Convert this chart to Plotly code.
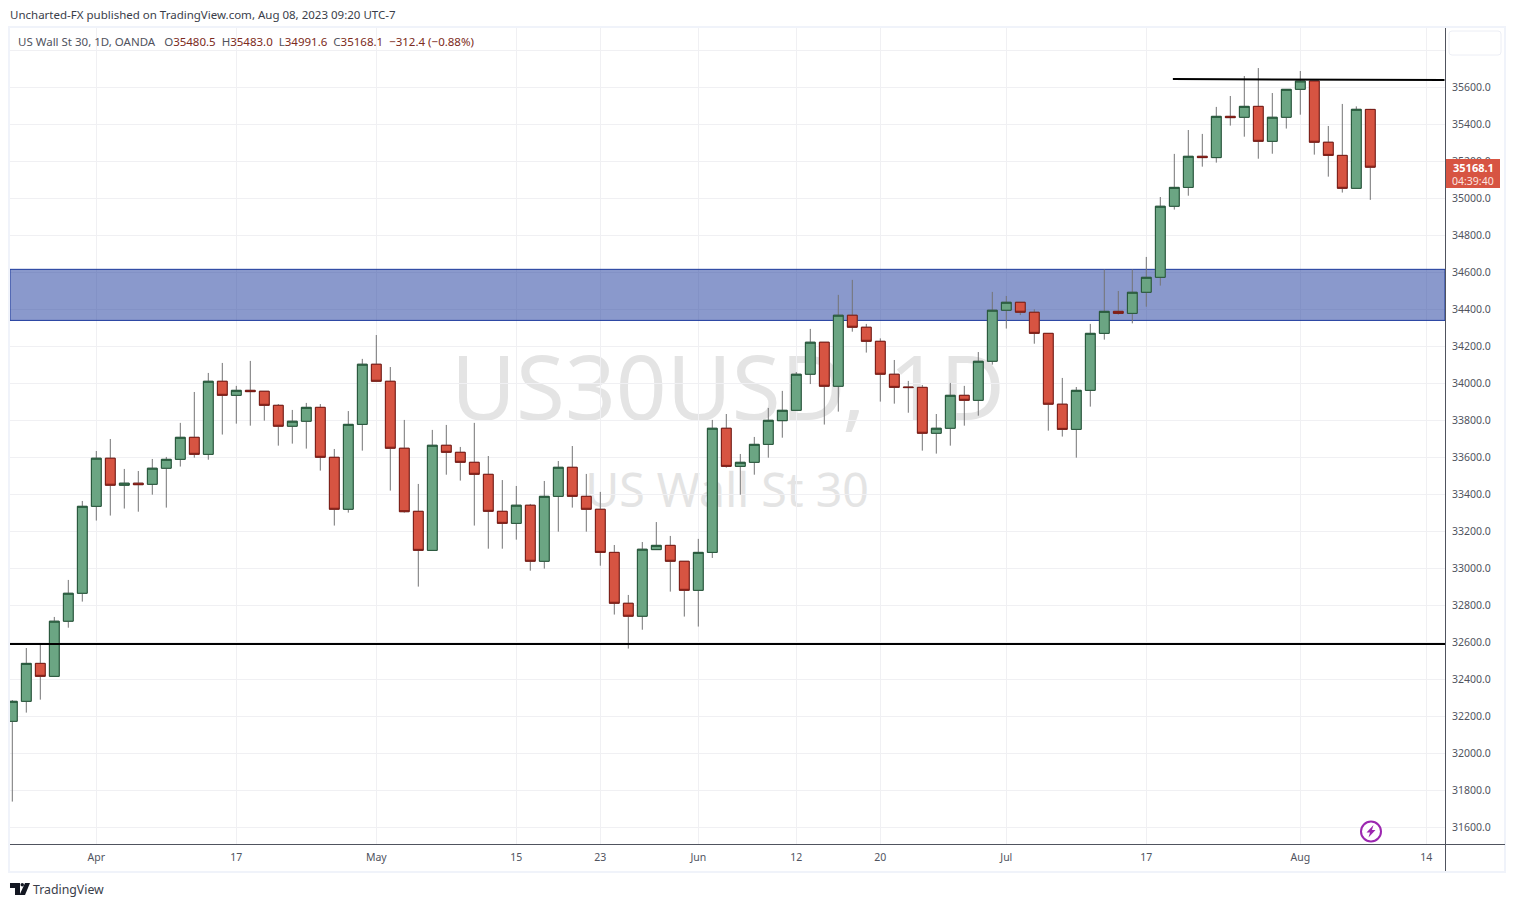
import plotly.graph_objects as go

W, H = 1515, 907
# ---------- data ----------
opens = [32173,32281,32486,32416,32714,32865,33335,33595,33449,33460,33454,33541,33589,33708,33616,34011,33935,33962,33957,33881,
         33768,33795,33870,33600,33319,33778,34103,34011,33649,33308,33097,33665,33627,33573,33508,33308,33243,33341,33038,33389,
         33546,33389,33319,33086,32811,32741,33101,33124,33038,32881,33086,33757,33551,33573,33670,33798,33854,34049,34222,33984,
         34368,34303,34227,34049,33980,33978,33730,33757,33935,33908,34119,34395,34438,34384,34270,33887,33751,33962,34270,34389,
         34378,34492,34573,34957,35059,35227,35220,35443,35438,35497,35308,35438,35589,35634,35303,35232,35054,35480.5]
highs = [32288,32569,32591,32737,32937,33364,33634,33699,33537,33526,33591,33602,33786,33953,34056,34110,33986,34121,33957,33888,
         33856,33894,33888,33645,33850,34132,34261,34088,33802,33456,33748,33775,33656,33786,33607,33477,33445,33348,33472,33580,
         33661,33510,33413,33126,32856,33142,33250,33175,33038,33159,33802,33834,33618,33710,33867,33959,34061,34294,34222,34478,
         34559,34321,34243,34126,34013,33991,33834,34002,33986,34169,34494,34472,34438,34400,34270,34029,33980,34321,34616,34499,
         34616,34683,35007,35240,35369,35348,35494,35553,35661,35704,35569,35589,35688,35634,35391,35510,35497,35483]
lows = [31739,32220,32290,32416,32679,32820,33258,33285,33323,33306,33398,33328,33550,33598,33587,33723,33782,33771,33798,33663,
        33674,33647,33528,33231,33301,33636,34011,33420,33301,32901,33097,33506,33474,33231,33106,33106,33155,32987,32998,33198,
        33328,33198,33014,32750,32566,32668,33101,32874,32739,32685,33056,33544,33398,33506,33598,33706,33854,33996,33777,33847,
        34279,34166,33901,33890,33841,33636,33620,33663,33771,33825,34101,34296,34369,34214,33744,33712,33598,33874,34236,34371,
        34324,34414,34528,34939,35014,35171,35193,35393,35333,35214,35241,35377,35452,35236,35117,35031,35054,34991.6]
closes = [32281,32486,32416,32714,32865,33335,33595,33449,33460,33452,33541,33589,33708,33616,34011,33935,33962,33955,33881,33768,
          33795,33870,33600,33319,33778,34103,34011,33649,33306,33097,33665,33627,33573,33508,33308,33243,33341,33038,33389,33546,
          33389,33319,33086,32811,32741,33103,33124,33038,32881,33086,33757,33551,33573,33670,33800,33854,34049,34222,33984,34368,
          34303,34227,34049,33978,33977,33730,33757,33935,33908,34119,34395,34438,34384,34270,33887,33751,33962,34270,34389,34378,
          34492,34573,34957,35059,35227,35220,35443,35436,35497,35308,35438,35589,35634,35303,35232,35054,35481,35168.1]
bar_index = list(range(len(opens)))

x_tick_pos = [6, 16, 26, 36, 42, 49, 56, 62, 71, 81, 92, 101]
x_tick_text = ["Apr", "17", "May", "15", "23", "Jun", "12", "20", "Jul", "17", "Aug", "14"]
y_tick_vals = list(range(31600, 35801, 200))
y_tick_text = [f"{v}.0" if v != 35800 else "" for v in y_tick_vals]

zone_top, zone_bottom = 34616, 34340
support_level = 32591
resistance = [(82.9, 35645), (102.3, 35639)]

UP, DOWN = "#6ba583", "#d75442"
UP_EDGE, DOWN_EDGE = "#225437", "#7a1a14"
WICK = "#737375"
GRID = "#f0f0f3"
AXIS = "#50535e"
FRAME = "#f0f3fa"
FONT = "Noto Sans"

# ---------- geometry helpers for page furniture ----------
PL, PR, PT, PB = 10, 1445, 28, 844
def fx(px): return px / W
def fy(py): return 1 - py / H
def rect(x0, y0, x1, y1, **kw):
    return dict(type="rect", xref="paper", yref="paper", x0=fx(x0), x1=fx(x1), y0=fy(y0), y1=fy(y1), **kw)
def poly(pts, **kw):
    d = "M" + " L".join(f"{fx(a):.5f},{fy(b):.5f}" for a, b in pts) + " Z"
    return dict(type="path", xref="paper", yref="paper", path=d, **kw)

x_range = [(PL - 12.3) / 14, (PR - 12.3) / 14]
y_per_px = 4000 / 740
y_range = [35600 - (PB - 87.3) * y_per_px, 35600 + (87.3 - PT) * y_per_px]

fig = go.Figure()
# full-range wicks first
fig.add_trace(go.Candlestick(
    x=bar_index, open=opens, high=highs, low=lows, close=closes, whiskerwidth=0,
    increasing=dict(line=dict(color=WICK, width=1), fillcolor=WICK),
    decreasing=dict(line=dict(color=WICK, width=1), fillcolor=WICK),
    hoverinfo="skip", showlegend=False))
# bodies on top
body_hi = [max(o, c) for o, c in zip(opens, closes)]
body_lo = [min(o, c) for o, c in zip(opens, closes)]
fig.add_trace(go.Candlestick(
    x=bar_index, open=opens, high=body_hi, low=body_lo, close=closes, whiskerwidth=0,
    increasing=dict(line=dict(color=UP_EDGE, width=1), fillcolor=UP),
    decreasing=dict(line=dict(color=DOWN_EDGE, width=1), fillcolor=DOWN),
    showlegend=False))

shapes = [
    # watermark, beneath everything on the plot
    rect(455, 341, 1001, 441, line_width=0, layer="below", fillcolor="rgba(0,0,0,0)",
         label=dict(text="US30USD, 1D", font=dict(family=FONT, size=89, color="#e4e4e4"),
                    textposition="middle center")),
    rect(585, 465, 869, 520, line_width=0, layer="below", fillcolor="rgba(0,0,0,0)",
         label=dict(text="US Wall St 30", font=dict(family=FONT, size=46.5, color="#e4e4e4"),
                    textposition="middle center")),
    # zone and levels
    dict(type="rect", xref="x", yref="y", x0=x_range[0], x1=x_range[1], y0=zone_bottom, y1=zone_top,
         fillcolor="rgba(21,51,153,0.5)", line=dict(color="#1c3a9c", width=1), layer="between"),
    dict(type="line", xref="x", yref="y", x0=x_range[0], x1=x_range[1], y0=support_level, y1=support_level,
         line=dict(color="#000000", width=2), layer="above"),
    dict(type="line", xref="x", yref="y", x0=resistance[0][0], x1=resistance[1][0],
         y0=resistance[0][1], y1=resistance[1][1], line=dict(color="#000000", width=2), layer="above"),
    # frame and axis rules
    rect(9, 27, 1505, 872, line=dict(color=FRAME, width=2), fillcolor="rgba(0,0,0,0)", layer="above"),
    dict(type="line", xref="paper", yref="paper", x0=fx(PL), x1=fx(1505), y0=fy(844.5), y1=fy(844.5),
         line=dict(color=AXIS, width=1), layer="above"),
    dict(type="line", xref="paper", yref="paper", x0=fx(1445.5), x1=fx(1445.5), y0=fy(28), y1=fy(871),
         line=dict(color=AXIS, width=1), layer="above"),
    # top-right empty button
    dict(type="path", xref="paper", yref="paper", layer="above", fillcolor="#ffffff",
         line=dict(color="#eceef5", width=1),
         path=f"M{fx(1452)},{fy(31)} L{fx(1498)},{fy(31)} Q{fx(1501)},{fy(31)} {fx(1501)},{fy(34)} "
              f"L{fx(1501)},{fy(52)} Q{fx(1501)},{fy(55)} {fx(1498)},{fy(55)} L{fx(1452)},{fy(55)} "
              f"Q{fx(1449)},{fy(55)} {fx(1449)},{fy(52)} L{fx(1449)},{fy(34)} Q{fx(1449)},{fy(31)} {fx(1452)},{fy(31)} Z"),
    # last price tag
    rect(1446, 159, 1500, 188, fillcolor=DOWN, line_width=0, layer="above"),
    # publisher logo
    poly([(10, 883), (20, 883), (20, 895), (15, 895), (15, 888), (10, 888)], fillcolor="#131722", line_width=0, layer="above"),
    dict(type="circle", xref="paper", yref="paper", x0=fx(20.5), x1=fx(24), y0=fy(883), y1=fy(886.5),
         fillcolor="#131722", line_width=0, layer="above"),
    poly([(25, 883), (30, 883), (25, 895), (19.5, 895)], fillcolor="#131722", line_width=0, layer="above"),
    # purple flash icon
    dict(type="circle", xref="paper", yref="paper", x0=fx(1361), x1=fx(1381), y0=fy(821.5), y1=fy(841.5),
         fillcolor="#ffffff", line=dict(color="#9c27b0", width=2), layer="above"),
    poly([(1373.5, 825), (1366.5, 832.5), (1370, 832.5), (1368.5, 837.5), (1375.5, 830), (1372, 830)],
         fillcolor="#9c27b0", line_width=0, layer="above"),
]

RED_TXT = "#7c2a20"
def val(s): return f'<span style="color:{RED_TXT}">{s}</span>'
annotations = [
    dict(text="Uncharted-FX published on TradingView.com, Aug 08, 2023 09:20 UTC-7", x=fx(8), y=fy(14.5),
         font=dict(family=FONT, size=11.5, color="#3a3e4a")),
    dict(text="US Wall St 30, 1D, OANDA  &nbsp;O" + val("35480.5") + " &nbsp;H" + val("35483.0") + " &nbsp;L" + val("34991.6")
         + " &nbsp;C" + val("35168.1") + " &nbsp;" + val("−312.4 (−0.88%)"), x=fx(16), y=fy(41.5),
         font=dict(family=FONT, size=11.5, color="#50535e")),
    dict(text="TradingView", x=fx(31), y=fy(889), font=dict(family=FONT, size=12.3, color="#3a3e4a")),
    dict(text="<b>35168.1</b>", x=fx(1473), y=fy(167.5), xanchor="center", font=dict(family=FONT, size=11, color="#ffffff")),
    dict(text="04:39:40", x=fx(1473), y=fy(180.5), xanchor="center", font=dict(family=FONT, size=10.5, color="#fbe4e0")),
]
for a in annotations:
    a.update(xref="paper", yref="paper", showarrow=False, xanchor=a.get("xanchor", "left"), yanchor="middle")

fig.update_layout(
    width=W, height=H, margin=dict(l=0, r=0, t=0, b=0, pad=0), autosize=False,
    paper_bgcolor="#ffffff", plot_bgcolor="#ffffff", showlegend=False,
    boxgap=0.3, boxgroupgap=0, boxmode="overlay", hovermode=False,
    shapes=shapes, annotations=annotations,
    xaxis=dict(domain=[fx(PL), fx(PR)], range=x_range, tickmode="array", tickvals=x_tick_pos, ticktext=x_tick_text,
               showgrid=True, gridcolor=GRID, gridwidth=1, zeroline=False, showline=False, ticks="",
               tickfont=dict(family=FONT, size=10.5, color=AXIS), rangeslider=dict(visible=False), ticklabelstandoff=5),
    yaxis=dict(domain=[fy(PB), fy(PT)], range=y_range, side="right", tickmode="array", tickvals=y_tick_vals, ticktext=y_tick_text,
               showgrid=True, gridcolor=GRID, gridwidth=1, zeroline=False, showline=False, ticks="",
               tickfont=dict(family=FONT, size=10.5, color=AXIS), ticklabelstandoff=6),
)
fig.write_html("out.html", config=dict(displayModeBar=False), post_script="document.body.style.margin='0';")
